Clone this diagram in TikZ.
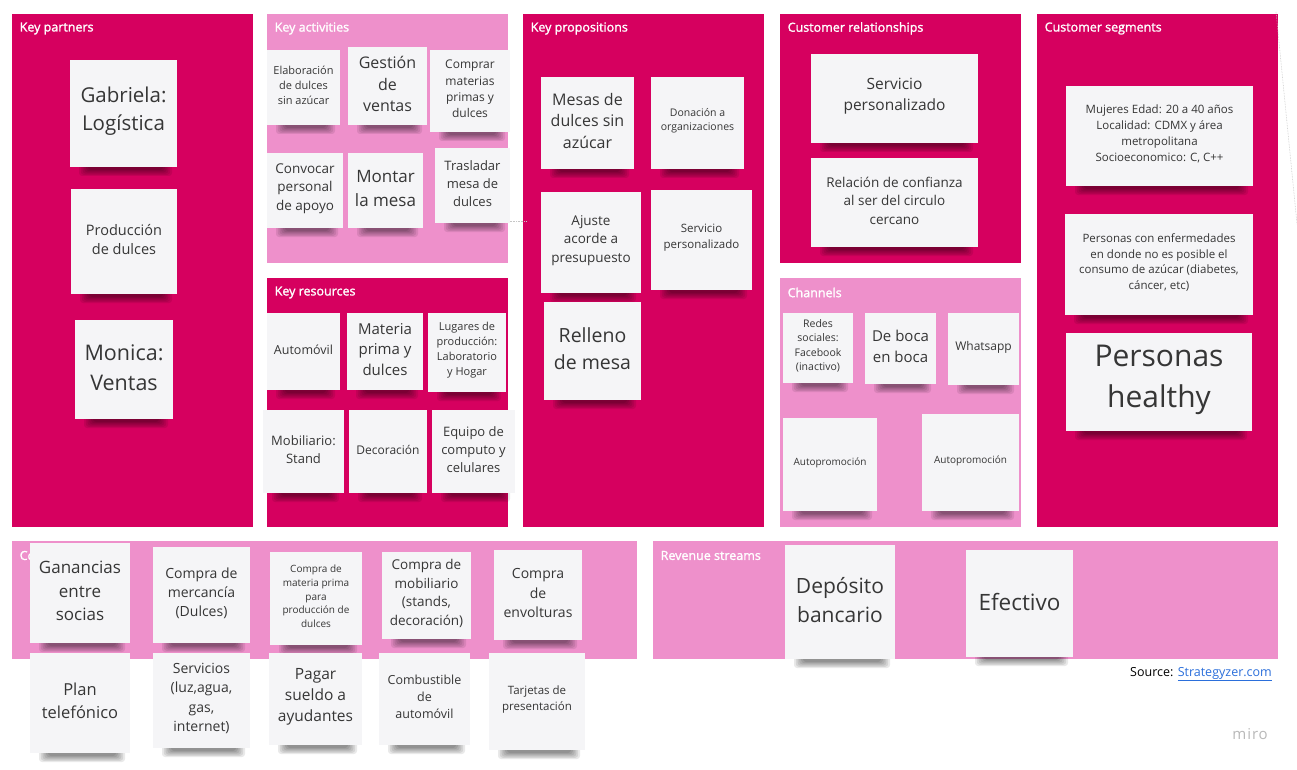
\documentclass[tikz,border=0pt]{standalone}
\usepackage{fontspec}
\setmainfont{Open Sans}
\newfontfamily\titlefont[FakeBold=1.5]{Open Sans}
\usetikzlibrary{positioning}

\definecolor{bmcdark}{HTML}{D6005F}
\definecolor{bmclight}{HTML}{EE90CB}
\definecolor{notefill}{HTML}{F5F5F7}
\definecolor{notetext}{HTML}{363636}
\definecolor{linkblue}{HTML}{2B6FDB}

% font size with a proportional line height
\newcommand\fs[1]{\fontsize{#1}{\fpeval{1.37*#1}}\selectfont}

\tikzset{
  panel/.style={rectangle, inner sep=0pt, anchor=north west},
  darkpanel/.style={panel, fill=bmcdark},
  lightpanel/.style={panel, fill=bmclight},
  paneltitle/.style={anchor=west, inner sep=0pt, text=white, font=\titlefont\fs{12.5}},
  note/.style={rectangle, fill=notefill, inner sep=0pt},
  notetxt/.style={inner sep=0pt, align=center, text=notetext},
}

% sticky note with a soft shadow under its lower edge:
% name, x1, y1, x2, y2, font size, text
\newcommand\sticky[7]{%
  \foreach \k in {0,...,5}{%
    \fill[black, opacity=0.085, rounded corners=3pt]
      ({#2+9+\k*1.8},{-(#5-4)}) rectangle ({#4-5-\k*1.8},{-(#5+9-\k*1.2)});
  }
  \node[note, minimum width={#4-#2}, minimum height={#5-#3}]
    (#1) at ({(#2+#4)/2},{-(#3+#5)/2}) {};
  \node[notetxt, font=\fs{#6}] (#1-text) at ([yshift=2]#1.center) {#7};
}

% canvas panel: style, name, x1, y1, x2, y2, title
\newcommand\bmcpanel[7]{%
  \node[#1, minimum width={#5-#3}, minimum height={#6-#4}] (#2) at (#3,-#4) {};
  \node[paneltitle] (#2title) at ([shift={(7.5,-14.5)}]#2.north west) {#7};
}

\begin{document}
\begin{tikzpicture}[x=1pt, y=1pt]
\fill[white] (0,0) rectangle (1297,-770);
\useasboundingbox (0,0) rectangle (1297,-770);

% canvas blocks
\bmcpanel{darkpanel}{kp}{12}{14}{253}{527}{Key partners}
\bmcpanel{lightpanel}{ka}{267}{14}{508}{263}{Key activities}
\bmcpanel{darkpanel}{kr}{267}{278}{508}{527}{Key resources}
\bmcpanel{darkpanel}{vp}{523}{14}{764}{527}{Key propositions}
\bmcpanel{darkpanel}{cr}{780}{14}{1021}{263}{Customer relationships}
\bmcpanel{lightpanel}{ch}{780}{278}{1021}{527}{Channels}
\bmcpanel{darkpanel}{cs}{1037}{14}{1278}{527}{Customer segments}
\bmcpanel{lightpanel}{cost}{12}{541}{637}{659}{Cost structure}
\bmcpanel{lightpanel}{rev}{653}{541}{1278}{659}{Revenue streams}

% faint leftover guide lines
\draw[gray!45, densely dotted, line width=0.6pt] (1276,-12) -- (1297,-224);
\draw[gray!45, densely dotted, line width=0.6pt] (508,-221) -- (527,-221);

% key partners
\sticky{gab}{70}{60}{177}{167}{20.5}{Gabriela:\\Logística}
\sticky{prod}{71}{189}{177}{294}{14.5}{Producción\\de dulces}
\sticky{mon}{75}{320}{173}{419}{21.5}{Monica:\\Ventas}

% key activities
\sticky{ka1}{267}{50}{340}{125}{11}{Elaboración\\de dulces\\sin azúcar}
\sticky{ka2}{348}{47}{427}{125}{16}{Gestión\\de\\ventas}
\sticky{ka3}{430}{50}{510}{132}{12}{Comprar\\materias\\primas y\\dulces}
\sticky{ka4}{267}{153}{343}{228}{13.5}{Convocar\\personal\\de apoyo}
\sticky{ka5}{348}{153}{423}{228}{17}{Montar\\la mesa}
\sticky{ka6}{435}{148}{510}{223}{13}{Trasladar\\mesa de\\dulces}

% key resources
\sticky{kr1}{267}{313}{340}{390}{12.5}{Automóvil}
\sticky{kr2}{347}{313}{423}{390}{15}{Materia\\prima y\\dulces}
\sticky{kr3}{428}{313}{506}{392}{11}{Lugares de\\producción:\\Laboratorio\\y Hogar}
\sticky{kr4}{263}{410}{344}{493}{13}{Mobiliario:\\Stand}
\sticky{kr5}{349}{410}{427}{493}{12}{Decoración}
\sticky{kr6}{432}{410}{515}{493}{13}{Equipo de\\computo y\\celulares}

% key propositions
\sticky{vp1}{541}{77}{634}{169}{16}{Mesas de\\dulces sin\\azúcar}
\sticky{vp2}{651}{77}{744}{169}{10.5}{Donación a\\organizaciones}
\sticky{vp3}{541}{192}{641}{293}{13.5}{Ajuste\\acorde a\\presupuesto}
\sticky{vp4}{651}{190}{752}{290}{11.5}{Servicio\\personalizado}
\sticky{vp5}{544}{302}{641}{400}{19.5}{Relleno\\de mesa}

% customer relationships
\sticky{cr1}{811}{54}{978}{143}{15.5}{Servicio\\personalizado}
\sticky{cr2}{811}{158}{978}{247}{13.5}{Relación de confianza\\al ser del circulo\\cercano}

% channels
\sticky{ch1}{783}{313}{853}{383}{10.5}{Redes\\sociales:\\Facebook\\(inactivo)}
\sticky{ch2}{865}{313}{936}{384}{15}{De boca\\en boca}
\sticky{ch3}{948}{313}{1019}{385}{12}{Whatsapp}
\sticky{ch4}{783}{418}{877}{511}{10}{Autopromoción}
\sticky{ch5}{922}{414}{1019}{511}{10}{Autopromoción}

% customer segments
\sticky{cs1}{1066}{86}{1253}{186}{11.5}{Mujeres Edad: 20 a 40 años\\Localidad: CDMX y área\\metropolitana\\Socioeconomico: C, C++}
\sticky{cs2}{1065}{214}{1253}{315}{11.5}{Personas con enfermedades\\en donde no es posible el\\consumo de azúcar (diabetes,\\cáncer, etc)}
\sticky{cs3}{1066}{333}{1252}{431}{30}{Personas\\healthy}

% cost structure
\sticky{c1}{30}{543}{130}{643}{17}{Ganancias\\entre\\socias}
\sticky{c2}{153}{547}{250}{643}{14}{Compra de\\mercancía\\(Dulces)}
\sticky{c3}{270}{552}{362}{645}{10}{Compra de\\materia prima\\para\\producción de\\dulces}
\sticky{c4}{382}{552}{471}{639}{13.5}{Compra de\\mobiliario\\(stands,\\decoración)}
\sticky{c5}{494}{550}{582}{640}{14}{Compra\\de\\envolturas}
\sticky{c6}{30}{653}{130}{753}{16.5}{Plan\\telefónico}
\sticky{c7}{153}{653}{250}{748}{14}{Servicios\\(luz,agua,\\gas,\\internet)}
\sticky{c8}{269}{653}{362}{745}{15.5}{Pagar\\sueldo a\\ayudantes}
\sticky{c9}{379}{653}{470}{745}{12.5}{Combustible\\de\\automóvil}
\sticky{c10}{489}{653}{585}{750}{11.5}{Tarjetas de\\presentación}

% revenue streams
\sticky{r1}{785}{545}{895}{659}{21}{Depósito\\bancario}
\sticky{r2}{966}{550}{1073}{657}{22.5}{Efectivo}

% footer
\node[anchor=east, inner sep=0pt, font=\fs{12.5}] (source) at (1272,-674)
  {Source: \textcolor{linkblue}{\underline{Strategyzer.com}}};
\node[anchor=east, inner sep=0pt, text=gray!55, font=\fs{15}\addfontfeature{LetterSpace=6}] (brand) at (1268,-734) {miro};
\end{tikzpicture}
\end{document}
